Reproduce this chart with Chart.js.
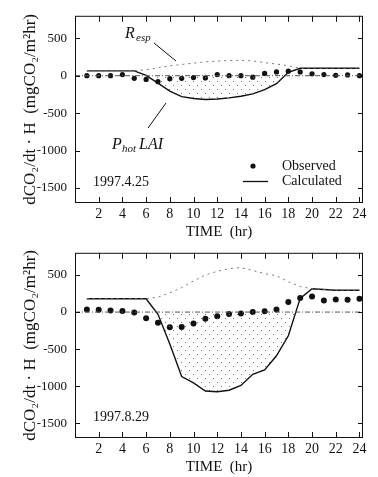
<!DOCTYPE html>
<html>
<head>
<meta charset="utf-8">
<script src="https://cdn.jsdelivr.net/npm/chart.js@4/dist/chart.umd.min.js"></script>
<style>
  body { margin: 0; background: #fff; }
  .panel { position: absolute; left: 0; }
</style>
</head>
<body>
<div class="panel" style="top:0"><canvas id="apr" width="378" height="242"></canvas></div>
<div class="panel" style="top:237px"><canvas id="aug" width="378" height="240"></canvas></div>
<script>
const hours = [1,2,3,4,5,6,7,8,9,10,11,12,13,14,15,16,17,18,19,20,21,22,23,24];
const xTicks = [2,4,6,8,10,12,14,16,18,20,22,24];
const yTicks = [-1500,-1000,-500,0,500];

// 1997.4.25
const obsApr  = [0,0,0,15,-35,-50,-80,-40,-35,-25,-30,15,0,0,-20,30,50,60,50,25,15,5,10,0];
const calcApr = [65,65,65,65,65,5,-100,-205,-280,-305,-318,-312,-296,-274,-243,-186,-106,45,100,100,100,100,100,100];
const respApr = [65,65,65,65,65,80,105,133,150,168,185,195,203,205,198,175,155,133,100,100,100,100,100,100];

// 1997.8.29
const obsAug  = [35,30,20,15,-5,-85,-145,-205,-200,-155,-90,-55,-25,-20,0,10,35,135,190,210,155,170,165,180];
const calcAug = [180,180,180,180,180,180,-30,-430,-870,-955,-1065,-1075,-1055,-990,-840,-780,-590,-320,185,315,305,295,295,295];
const respAug = [180,180,180,180,180,180,200,260,330,420,500,550,585,600,560,520,490,410,345,315,305,295,295,295];

const serif = "'Liberation Serif', 'DejaVu Serif', serif";

function stipple() {
    const c = document.createElement('canvas');
    c.width = 8; c.height = 8;
    const g = c.getContext('2d');
    g.fillStyle = '#777';
    g.fillRect(1, 1, 1, 1);
    g.fillRect(5, 5, 1, 1);
    return g.createPattern(c, 'repeat');
}

function pts(ys) {
    return hours.map((h, i) => ({ x: h, y: ys[i] }));
}

// box, inward ticks and the text inside the plot
const frame = {
    id: 'frame',
    afterDatasetsDraw(chart, args, opts) {
        const { ctx, chartArea: a, scales: { x, y } } = chart;
        ctx.save();
        ctx.strokeStyle = '#111';
        ctx.lineWidth = 1;
        ctx.strokeRect(a.left + 0.5, a.top + 0.5, a.width - 1, a.height - 1);
        ctx.beginPath();
        xTicks.forEach(v => {
            const px = Math.round(x.getPixelForValue(v)) + 0.5;
            ctx.moveTo(px, a.bottom); ctx.lineTo(px, a.bottom - 6);
            ctx.moveTo(px, a.top); ctx.lineTo(px, a.top + 6);
        });
        yTicks.forEach(v => {
            const py = Math.round(y.getPixelForValue(v)) + 0.5;
            ctx.moveTo(a.left, py); ctx.lineTo(a.left + 5, py);
            ctx.moveTo(a.right, py); ctx.lineTo(a.right - 5, py);
        });
        ctx.stroke();

        ctx.fillStyle = '#111';
        ctx.textBaseline = 'middle';
        ctx.font = '14px ' + serif;
        ctx.fillText(opts.date, a.left + 18, a.bottom - 21);

        if (opts.legend) {
            ctx.beginPath();
            ctx.arc(253, 166, 2.6, 0, Math.PI * 2);
            ctx.fill();
            ctx.beginPath();
            ctx.lineWidth = 1.3;
            ctx.moveTo(243, 181.5); ctx.lineTo(268, 181.5);
            ctx.stroke();
            ctx.fillText('Observed', 282, 166);
            ctx.fillText('Calculated', 282, 181);

            // labels with leaders
            ctx.font = 'italic 16px ' + serif;
            ctx.fillText('R', 125, 34);
            ctx.font = 'italic 11px ' + serif;
            ctx.fillText('esp', 136, 38);
            ctx.font = 'italic 16px ' + serif;
            ctx.fillText('P', 112, 145);
            ctx.font = 'italic 11px ' + serif;
            ctx.fillText('hot', 122, 149);
            ctx.font = 'italic 16px ' + serif;
            ctx.fillText('LAI', 139, 145);
            ctx.lineWidth = 1;
            ctx.beginPath();
            ctx.moveTo(154, 43); ctx.lineTo(176, 61);
            ctx.moveTo(148, 128); ctx.lineTo(166, 103);
            ctx.stroke();
        }
        ctx.restore();
    }
};

function makeChart(id, obs, calc, resp, date, legend, plotTop, axisH) {
    const ctx = document.getElementById(id).getContext('2d');
    return new Chart(ctx, {
        type: 'line',
        data: {
            datasets: [
                {
                    label: 'zero',
                    data: [{ x: 0, y: 0 }, { x: 24.3, y: 0 }],
                    borderColor: '#555',
                    borderWidth: 1,
                    borderDash: [5, 2, 1, 2],
                    pointRadius: 0,
                },
                {
                    label: 'Resp',
                    data: pts(resp),
                    borderColor: '#777',
                    borderWidth: 1,
                    borderDash: [2, 4],
                    pointRadius: 0,
                },
                {
                    label: 'Calculated',
                    data: pts(calc),
                    borderColor: '#111',
                    borderWidth: 1.4,
                    pointRadius: 0,
                    fill: { target: { value: 0 }, above: 'rgba(0,0,0,0)', below: stipple() },
                },
                {
                    label: 'Observed',
                    data: pts(obs),
                    showLine: false,
                    pointRadius: id === 'aug' ? 3 : 2.6,
                    pointBackgroundColor: '#111',
                    pointBorderWidth: 0,
                },
            ],
        },
        options: {
            responsive: false,
            animation: false,
            devicePixelRatio: 1,
            layout: { padding: { left: 0, right: 15, top: plotTop, bottom: 0 } },
            scales: {
                x: {
                    type: 'linear',
                    min: 0,
                    max: 24.3,
                    afterFit: (s) => { s.height = axisH; },
                    afterBuildTicks: (s) => { s.ticks = xTicks.map(v => ({ value: v })); },
                    grid: { display: false, drawTicks: false },
                    border: { display: false },
                    ticks: { color: '#111', font: { family: serif, size: 14 }, padding: 3, maxRotation: 0 },
                    title: { display: true, text: 'TIME  (hr)', color: '#111', font: { family: serif, size: 15 }, padding: { top: 0, bottom: 1 } },
                },
                y: {
                    min: -1700,
                    max: 800,
                    afterFit: (s) => { s.width = 75; },
                    afterBuildTicks: (s) => { s.ticks = yTicks.map(v => ({ value: v })); },
                    grid: { display: false, drawTicks: false },
                    border: { display: false },
                    ticks: { color: '#111', font: { family: serif, size: 13 }, padding: 8, callback: (v) => String(v) },
                    title: { display: true, text: 'dCO₂/dt · H  (mgCO₂/m²hr)', color: '#111', font: { family: serif, size: 17 }, padding: { top: 20, bottom: 0 } },
                },
            },
            plugins: {
                legend: { display: false },
                tooltip: { enabled: false },
                frame: { date: date, legend: legend },
            },
        },
        plugins: [frame],
    });
}

makeChart('apr', obsApr, calcApr, respApr, '1997.4.25', true, 14, 39);
makeChart('aug', obsAug, calcAug, respAug, '1997.8.29', false, 9, 39);
</script>
</body>
</html>
